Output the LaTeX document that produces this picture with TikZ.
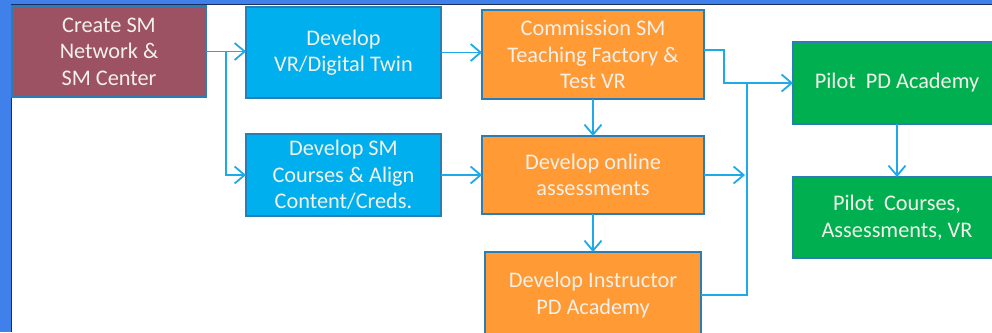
\documentclass[tikz,border=0pt]{standalone}
\usepackage{fontspec}
\setmainfont{Carlito}
\usetikzlibrary{arrows.meta,calc}
\definecolor{maroonbox}{HTML}{9C5263}
\definecolor{bluebox}{HTML}{00B0EE}
\definecolor{orangebox}{HTML}{FF9A35}
\definecolor{greenbox}{HTML}{00B050}
\definecolor{boxline}{HTML}{2A7DB5}
\definecolor{conn}{HTML}{1EAAE8}
\definecolor{frameblue}{HTML}{3F80EA}
\definecolor{framedark}{HTML}{1C2F5A}
\definecolor{boxtext}{HTML}{F4F0EA}
\tikzset{
  boxnode/.style={draw=boxline, line width=1.6pt, inner sep=0pt, outer sep=0pt,
    text=boxtext, align=center,
    font=\fontsize{22.3}{26.5}\selectfont},
  arr/.style={draw=conn, line width=1.8pt, -{Straight Barb[length=10pt,width=17pt,line width=1.8pt]}},
  ln/.style={draw=conn, line width=1.8pt}
}
\begin{document}
\begin{tikzpicture}[x=1pt,y=-1pt]
\useasboundingbox (0,0) rectangle (992,332);
\clip (0,0) rectangle (992,332);
\fill[white] (0,0) rectangle (992,332);
\fill[frameblue] (0,0) rectangle (11.5,332);
\fill[frameblue] (0,0) rectangle (992,4.5);
\draw[framedark, line width=1pt] (11.5,332) -- (11.5,4.5) -- (992,4.5);

\node[boxnode, fill=maroonbox, minimum width=194, minimum height=91] (cr) at (109,51.5) {Create SM\\Network \&\\SM Center};
\node[boxnode, fill=bluebox, minimum width=195, minimum height=91] (vr) at (343.5,52.5) {Develop\\VR/Digital Twin};
\node[boxnode, fill=orangebox, minimum width=222, minimum height=89] (co) at (593,54.5) {Commission SM\\Teaching Factory \&\\Test VR};
\node[boxnode, fill=greenbox, minimum width=208, minimum height=82] (pd) at (897,83) {Pilot\ \ PD Academy};
\node[boxnode, fill=bluebox, minimum width=195, minimum height=82] (sc) at (343.5,175) {Develop SM\\Courses \& Align\\Content/Creds.};
\node[boxnode, fill=orangebox, minimum width=222, minimum height=78] (on) at (593,175) {Develop online\\assessments};
\node[boxnode, fill=orangebox, minimum width=216, minimum height=86] (ins) at (593,295) {Develop Instructor\\PD Academy};
\node[boxnode, fill=greenbox, minimum width=208, minimum height=81] (pc) at (897,217.5) {Pilot\ \ Courses,\\Assessments, VR};

\coordinate (br) at (226,52);
\coordinate (j2) at (747,83);

\draw[arr] (cr.east) -- (cr.east -| vr.west);
\draw[arr] (br) |- (sc.west);
\draw[arr] (vr.east) -- (vr.east -| co.west);
\draw[arr] (sc.east) -- (sc.east -| on.west);
\draw[arr] (co.south) -- (on.north);
\draw[arr] (on.south) -- (ins.north);
\draw[arr] ([yshift=4.5pt]co.east) -- ++(20,0) |- (pd.west);
\draw[ln] (ins.east) -| (j2);
\draw[arr] (on.east) -- ($(on.east -| j2)+(-2,0)$);
\draw[arr] (pd.south) -- (pc.north);
\end{tikzpicture}
\end{document}
